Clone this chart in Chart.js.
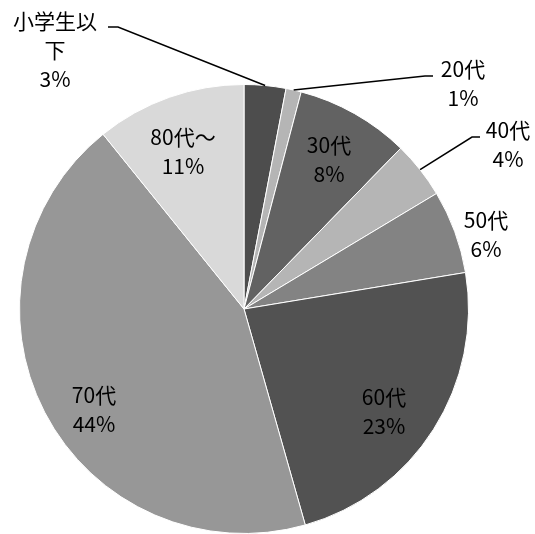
<!DOCTYPE html>
<html>
<head>
<meta charset="utf-8">
<script src="https://cdn.jsdelivr.net/npm/chart.js@4.4.0/dist/chart.umd.min.js"></script>
<style>
  html, body { margin: 0; padding: 0; background: #fff; }
  #wrap { width: 535px; height: 534px; }
</style>
</head>
<body>
<div id="wrap"><canvas id="pieChart" width="535" height="534"></canvas></div>
<script>
// datos del grafico (porcentajes por edad)
var categorias = ["小学生以下", "20代", "30代", "40代", "50代", "60代", "70代", "80代～"];
var valores = [3.0, 1.1, 8.2, 4.1, 6.0, 23.2, 43.6, 10.8];
var colores = ["#4d4d4d", "#b5b5b5", "#626262", "#b5b5b5", "#838383", "#525252", "#979797", "#d9d9d9"];

// posicion de cada etiqueta (centro de la primera linea) y codo de la linea guia
var etiquetas = [
  { lineas: ["小学生以", "下"], x: 55, y: 21, codo: [118, 27], fin: [108, 27] },
  { lineas: ["20代"], x: 463, y: 69, codo: [425, 76], fin: [433, 76] },
  { lineas: ["30代"], x: 329, y: 145 },
  { lineas: ["40代"], x: 508, y: 130, codo: [472, 137], fin: [480, 137] },
  { lineas: ["50代"], x: 486, y: 220 },
  { lineas: ["60代"], x: 384, y: 397 },
  { lineas: ["70代"], x: 94, y: 395 },
  { lineas: ["80代～"], x: 183, y: 137 }
];

var fuente = '21px "Noto Sans CJK JP", "Noto Sans", sans-serif';
var altoLinea = 29;

var pluginEtiquetas = {
  id: "etiquetas",
  afterDatasetsDraw: function(chart) {
    var ctx = chart.ctx;
    var meta = chart.getDatasetMeta(0);
    var total = valores.reduce(function(a, b) { return a + b; }, 0);

    ctx.save();
    // lineas guia
    ctx.strokeStyle = "#000";
    ctx.lineWidth = 1.5;
    for (var i = 0; i < meta.data.length; i++) {
      var et = etiquetas[i];
      if (!et.codo) continue;
      var arc = meta.data[i];
      var medio = (arc.startAngle + arc.endAngle) / 2;
      var px = arc.x + Math.cos(medio) * arc.outerRadius;
      var py = arc.y + Math.sin(medio) * arc.outerRadius;
      ctx.beginPath();
      ctx.moveTo(px, py);
      ctx.lineTo(et.codo[0], et.codo[1]);
      ctx.lineTo(et.fin[0], et.fin[1]);
      ctx.stroke();
    }

    // textos
    ctx.fillStyle = "#000";
    ctx.font = fuente;
    ctx.textAlign = "center";
    ctx.textBaseline = "middle";
    for (var j = 0; j < categorias.length; j++) {
      var e = etiquetas[j];
      var pct = Math.round(valores[j] / total * 100) + "%";
      var lineas = e.lineas.concat([pct]);
      for (var k = 0; k < lineas.length; k++) {
        ctx.fillText(lineas[k], e.x, e.y + k * altoLinea);
      }
    }
    ctx.restore();
  }
};

var ctxPie = document.getElementById("pieChart").getContext("2d");
var pieChart = new Chart(ctxPie, {
  type: "pie",
  data: {
    labels: categorias,
    datasets: [{
      data: valores,
      backgroundColor: colores,
      borderColor: "#ffffff",
      borderWidth: 1
    }]
  },
  options: {
    responsive: false,
    animation: false,
    layout: { padding: { left: 19, right: 66, top: 84, bottom: 0 } },
    plugins: {
      legend: { display: false },
      tooltip: { enabled: false }
    }
  },
  plugins: [pluginEtiquetas]
});
</script>
</body>
</html>
